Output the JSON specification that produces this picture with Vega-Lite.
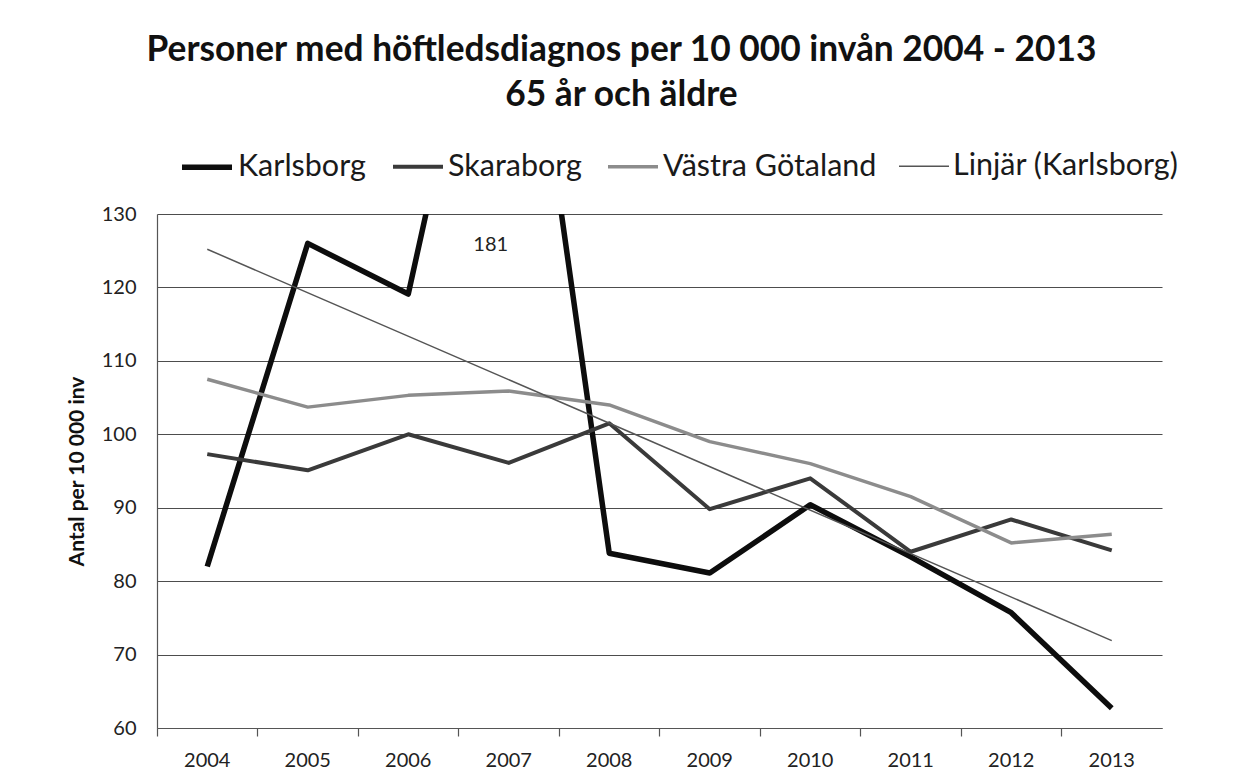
{
  "$schema": "https://vega.github.io/schema/vega-lite/v6.json",
  "autosize": {"type": "none"},
  "width": 1005,
  "height": 514,
  "padding": {"left": 157, "top": 214, "right": 79, "bottom": 46},
  "background": "white",
  "title": {
    "text": ["Personer med höftledsdiagnos per 10 000 invån 2004 - 2013", "65 år och äldre"],
    "font": "Lato",
    "fontSize": 35.3,
    "fontWeight": "bold",
    "color": "#111111",
    "anchor": "middle",
    "dx": -38,
    "offset": 26,
    "lineHeight": 45
  },
  "config": {
    "view": {"stroke": null},
    "font": "Lato"
  },
  "data": {
    "values": [
      {"year": "2004", "series": "Karlsborg", "value": 82.0},
      {"year": "2005", "series": "Karlsborg", "value": 126.0},
      {"year": "2006", "series": "Karlsborg", "value": 119.1},
      {"year": "2007", "series": "Karlsborg", "value": 181},
      {"year": "2008", "series": "Karlsborg", "value": 83.8},
      {"year": "2009", "series": "Karlsborg", "value": 81.1},
      {"year": "2010", "series": "Karlsborg", "value": 90.4},
      {"year": "2011", "series": "Karlsborg", "value": 83.3},
      {"year": "2012", "series": "Karlsborg", "value": 75.7},
      {"year": "2013", "series": "Karlsborg", "value": 62.7},
      {"year": "2004", "series": "Skaraborg", "value": 97.3},
      {"year": "2005", "series": "Skaraborg", "value": 95.1},
      {"year": "2006", "series": "Skaraborg", "value": 100.0},
      {"year": "2007", "series": "Skaraborg", "value": 96.1},
      {"year": "2008", "series": "Skaraborg", "value": 101.5},
      {"year": "2009", "series": "Skaraborg", "value": 89.8},
      {"year": "2010", "series": "Skaraborg", "value": 94.0},
      {"year": "2011", "series": "Skaraborg", "value": 84.0},
      {"year": "2012", "series": "Skaraborg", "value": 88.4},
      {"year": "2013", "series": "Skaraborg", "value": 84.2},
      {"year": "2004", "series": "Västra Götaland", "value": 107.5},
      {"year": "2005", "series": "Västra Götaland", "value": 103.7},
      {"year": "2006", "series": "Västra Götaland", "value": 105.3},
      {"year": "2007", "series": "Västra Götaland", "value": 105.9},
      {"year": "2008", "series": "Västra Götaland", "value": 104.0},
      {"year": "2009", "series": "Västra Götaland", "value": 99.0},
      {"year": "2010", "series": "Västra Götaland", "value": 96.0},
      {"year": "2011", "series": "Västra Götaland", "value": 91.5},
      {"year": "2012", "series": "Västra Götaland", "value": 85.2},
      {"year": "2013", "series": "Västra Götaland", "value": 86.4},
      {"year": "2004", "series": "Linjär (Karlsborg)", "value": 125.2},
      {"year": "2013", "series": "Linjär (Karlsborg)", "value": 71.9}
    ]
  },
  "layer": [
    {
      "mark": {"type": "line", "clip": true, "strokeJoin": "round"},
      "encoding": {
        "x": {
          "field": "year",
          "type": "ordinal",
          "bandPosition": 0.5,
          "scale": {"type": "band", "paddingInner": 0, "paddingOuter": 0},
          "axis": {
            "title": null,
            "labelAngle": 0,
            "bandPosition": 0,
            "ticks": true,
            "tickSize": 8,
            "tickColor": "#555555",
            "tickWidth": 1.2,
            "domain": true,
            "domainColor": "#555555",
            "domainWidth": 1.2,
            "grid": false,
            "labelFontSize": 20,
            "labelColor": "#222222",
            "labelPadding": 14
          }
        },
        "y": {
          "field": "value",
          "type": "quantitative",
          "scale": {"domain": [60, 130], "nice": false, "zero": false},
          "axis": {
            "values": [60, 70, 80, 90, 100, 110, 120, 130],
            "grid": true,
            "gridColor": "#4d4d4d",
            "gridWidth": 1.2,
            "domain": true,
            "domainColor": "#555555",
            "domainWidth": 1.2,
            "ticks": false,
            "labelFontSize": 20,
            "labelColor": "#222222",
            "labelPadding": 21,
            "title": "Antal per 10 000 inv",
            "titleFontSize": 21,
            "titleFontWeight": "bold",
            "titleColor": "#111111",
            "titlePadding": 14
          }
        },
        "color": {
          "field": "series",
          "type": "nominal",
          "scale": {
            "domain": ["Karlsborg", "Skaraborg", "Västra Götaland", "Linjär (Karlsborg)"],
            "range": ["#0d0d0d", "#3a3a3a", "#8c8c8c", "#555555"]
          },
          "legend": {
            "orient": "none",
            "legendX": 22,
            "legendY": -75,
            "direction": "horizontal",
            "title": null,
            "symbolType": "stroke",
            "symbolSize": 2500,
            "labelFontSize": 30.5,
            "labelColor": "#1a1a1a",
            "labelOffset": 3,
            "labelLimit": 0,
            "columnPadding": 19
          }
        },
        "strokeWidth": {
          "field": "series",
          "type": "nominal",
          "scale": {
            "type": "ordinal",
            "domain": ["Karlsborg", "Skaraborg", "Västra Götaland", "Linjär (Karlsborg)"],
            "range": [5.5, 4, 3.5, 1.5]
          },
          "legend": {
            "orient": "none",
            "legendX": 22,
            "legendY": -75,
            "direction": "horizontal",
            "title": null,
            "symbolType": "stroke",
            "symbolSize": 2500,
            "labelFontSize": 30.5,
            "labelColor": "#1a1a1a",
            "labelOffset": 3,
            "labelLimit": 0,
            "columnPadding": 19
          }
        }
      }
    },
    {
      "transform": [{"filter": "datum.series === 'Karlsborg' && datum.year === '2007'"}],
      "mark": {"type": "text", "fontSize": 20, "color": "#222222", "dx": -18, "baseline": "middle"},
      "encoding": {
        "x": {"field": "year", "type": "ordinal", "bandPosition": 0.5},
        "y": {"datum": 125.8},
        "text": {"field": "value", "type": "quantitative"}
      }
    }
  ]
}
